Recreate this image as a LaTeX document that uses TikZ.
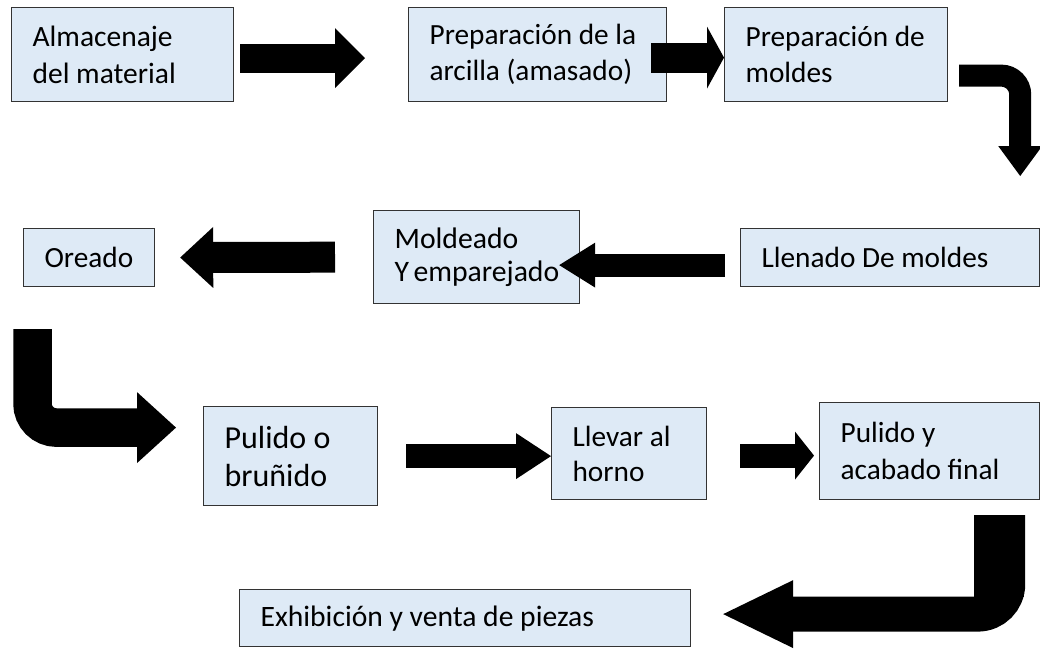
\documentclass[tikz,border=0pt]{standalone}
\usepackage{fontspec}
\setmainfont{Carlito}
\usetikzlibrary{arrows.meta, positioning}
\definecolor{boxblue}{RGB}{222,234,246}
\hyphenpenalty=10000
\tikzset{
    proc/.style={draw=black!80, line width=1.2pt, fill=boxblue, anchor=north west,
        align=flush left, inner xsep=21pt, inner ysep=0pt},
    blockarrow/.style n args={3}{line width=#1,
        -{Triangle[length=#2, width=#3, line width=0pt]}},
}

\begin{document}
\begin{tikzpicture}[x=1pt, y=-1pt]

    \useasboundingbox (0,0) rectangle (1040,648);

    % Nodes
    \node (a0) [proc, text width=180pt, minimum height=94pt, font=\fontsize{29.5}{37}\selectfont] at (11,7) {Almacenaje\\del material};
    \node (a1) [proc, text width=216pt, minimum height=94pt, font=\fontsize{29.3}{36}\selectfont] at (408,7) {Preparación de la\\arcilla (amasado)};
    \node (a2) [proc, text width=181pt, minimum height=94pt, font=\fontsize{29.3}{36}\selectfont] at (724,7) {Preparación~de\\moldes};
    \node (a3) [proc, text width=257pt, minimum height=58pt, font=\fontsize{29.3}{36}\selectfont] at (740,228) {Llenado De moldes};
    \node (a4) [proc, text width=164pt, minimum height=93pt, font=\fontsize{29.7}{33}\selectfont] at (373,210) {Moldeado\\Y~emparejado};
    \node (a5) [proc, text width=89pt,  minimum height=58pt, font=\fontsize{29.3}{36}\selectfont] at (23,228) {Oreado};
    \node (a6) [proc, text width=132pt, minimum height=99pt, font=\fontsize{32}{38}\selectfont] at (203,406) {Pulido o\\bruñido};
    \node (a7) [proc, text width=113pt, minimum height=92pt, font=\fontsize{29.3}{35}\selectfont] at (551,407) {Llevar al\\horno};
    \node (a8) [proc, text width=178pt, minimum height=97pt, font=\fontsize{29.3}{37}\selectfont] at (819,402) {Pulido y\\acabado final};
    \node (a9) [proc, text width=409pt, minimum height=57pt, font=\fontsize{29.6}{36}\selectfont] at (239,589) {Exhibición y venta de piezas};

    % Connectors
    \draw [blockarrow={29pt}{30pt}{60pt}, shorten <=6pt, shorten >=43pt] ([yshift=-3.5pt]a0.east) -- ([yshift=-3.5pt]a1.west);
    \draw [blockarrow={30pt}{17pt}{62pt}, shorten <=-16pt] ([yshift=-3pt]a1.east) -- ([yshift=-3pt]a2.west);
    \draw [blockarrow={22pt}{30pt}{44pt}, rounded corners=19pt] ([shift={(11,21)}]a2.east) -| ([shift={(-20,-52)}]a3.north east);
    \draw [blockarrow={23pt}{36pt}{45pt}, shorten <=15pt, shorten >=-21pt] ([yshift=-7.5pt]a3.west) -- ([yshift=-8pt]a4.east);
    \draw [blockarrow={31pt}{33pt}{61pt}, shorten <=38pt, shorten >=25pt] (a4.west) -- (a5.east);
    \draw [blockarrow={38.5pt}{39pt}{71pt}, rounded corners=24pt] ([shift={(9.5,42)}]a5.south west) |- ([shift={(-27,-28.5)}]a6.west);
    \draw [blockarrow={24pt}{35pt}{46pt}, shorten <=28pt] (a6.east) -- ([yshift=-2.5pt]a7.west);
    \draw [blockarrow={24pt}{19pt}{48pt}, shorten <=33pt, shorten >=5pt] ([yshift=-2pt]a7.east) -- ([yshift=-4.5pt]a8.west);
    \draw [line width=50pt] ([shift={(-41,15)}]a8.south east) -- ([shift={(-41,97)}]a8.south east);
    \draw [blockarrow={35pt}{70pt}{68pt}, rounded corners=30pt] ([shift={(-32.5,15)}]a8.south east) |- ([shift={(32,-4)}]a9.east);

\end{tikzpicture}
\end{document}
